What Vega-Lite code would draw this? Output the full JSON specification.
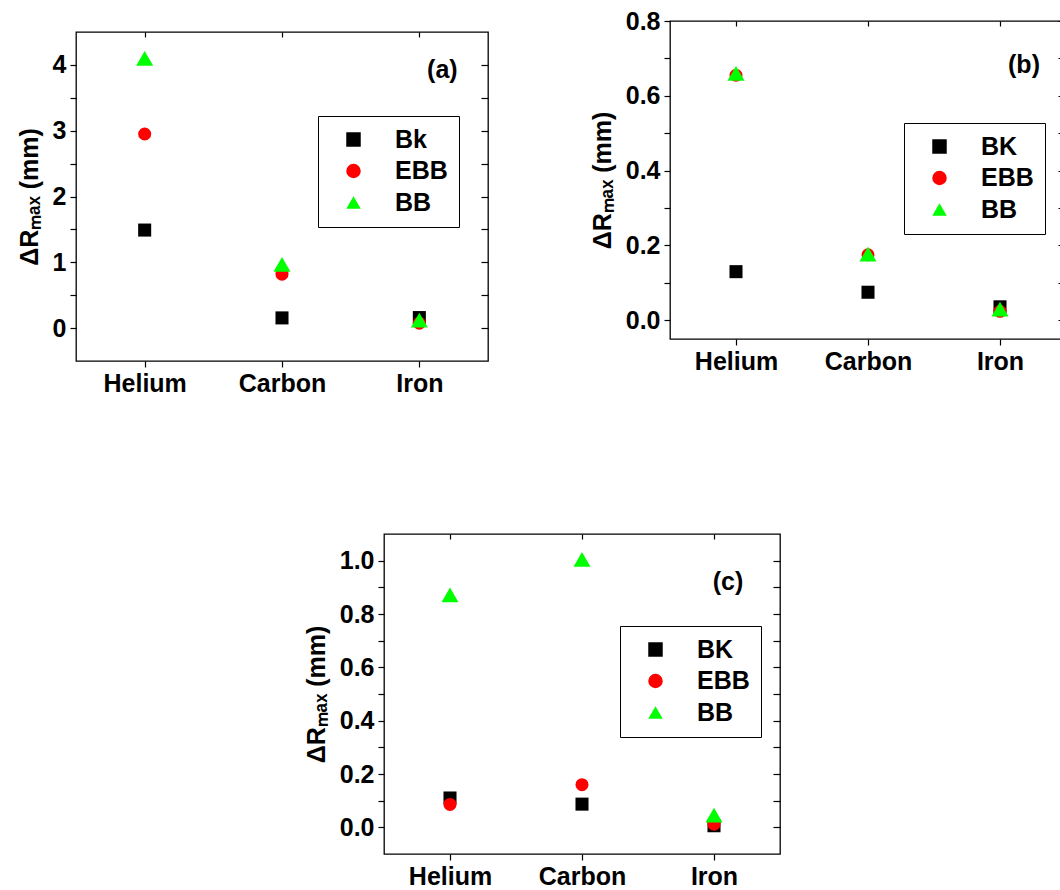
{
  "$schema": "https://vega.github.io/schema/vega-lite/v6.json",
  "padding": {"left": 16, "top": 8, "right": 0, "bottom": 0},
  "background": "white",
  "config": {
    "font": "Liberation Sans",
    "view": {"stroke": "black", "strokeWidth": 1.3},
    "axis": {"grid": false, "domain": false, "labelFont": "Liberation Sans", "labelFontSize": 25, "labelFontWeight": "bold", "labelColor": "black", "tickColor": "black", "tickSize": 6, "tickWidth": 1.2, "labelPadding": 4, "titleFont": "Liberation Sans", "titleFontSize": 25, "titleFontWeight": "bold", "titleColor": "black", "titlePadding": 10},
    "legend": {"strokeColor": "black", "fillColor": "white", "padding": 11, "labelFont": "Liberation Sans", "labelFontSize": 25, "labelFontWeight": "bold", "labelColor": "black", "symbolSize": 210, "symbolOffset": 12, "labelOffset": 29, "rowPadding": 5.5, "symbolStrokeWidth": 0}
  },
  "datasets": {
    "a": [
      {"element": "Helium", "series": "Bk", "value": 1.49},
      {"element": "Carbon", "series": "Bk", "value": 0.155},
      {"element": "Iron", "series": "Bk", "value": 0.16},
      {"element": "Helium", "series": "EBB", "value": 2.95},
      {"element": "Carbon", "series": "EBB", "value": 0.82},
      {"element": "Iron", "series": "EBB", "value": 0.075},
      {"element": "Helium", "series": "BB", "value": 4.1},
      {"element": "Carbon", "series": "BB", "value": 0.97},
      {"element": "Iron", "series": "BB", "value": 0.12}
    ],
    "b": [
      {"element": "Helium", "series": "BK", "value": 0.13},
      {"element": "Carbon", "series": "BK", "value": 0.075},
      {"element": "Iron", "series": "BK", "value": 0.036},
      {"element": "Helium", "series": "EBB", "value": 0.655},
      {"element": "Carbon", "series": "EBB", "value": 0.175},
      {"element": "Iron", "series": "EBB", "value": 0.024},
      {"element": "Helium", "series": "BB", "value": 0.66},
      {"element": "Carbon", "series": "BB", "value": 0.177},
      {"element": "Iron", "series": "BB", "value": 0.03}
    ],
    "c": [
      {"element": "Helium", "series": "BK", "value": 0.11},
      {"element": "Carbon", "series": "BK", "value": 0.087},
      {"element": "Iron", "series": "BK", "value": 0.006},
      {"element": "Helium", "series": "EBB", "value": 0.086},
      {"element": "Carbon", "series": "EBB", "value": 0.16},
      {"element": "Iron", "series": "EBB", "value": 0.012},
      {"element": "Helium", "series": "BB", "value": 0.872},
      {"element": "Carbon", "series": "BB", "value": 1.005},
      {"element": "Iron", "series": "BB", "value": 0.046}
    ]
  },
  "spacing": 134,
  "resolve": {"scale": {"color": "independent", "shape": "independent"}, "legend": {"color": "independent", "shape": "independent"}},
  "vconcat": [
    {
      "spacing": 99,
      "resolve": {"scale": {"color": "independent", "shape": "independent"}, "legend": {"color": "independent", "shape": "independent"}},
      "hconcat": [
        {
          "spacing": 5,
          "resolve": {"scale": {"color": "independent", "shape": "independent"}, "legend": {"color": "independent", "shape": "independent"}},
          "vconcat": [
            {
              "width": 1,
              "height": 1,
              "view": {"stroke": null},
              "data": {"values": [{}]},
              "mark": {"type": "point", "opacity": 0},
              "encoding": {}
            },
            {
              "width": 412,
              "height": 329,
              "layer": [
                {
                  "data": {"name": "a"},
                  "mark": {"type": "point", "filled": true, "opacity": 1},
                  "encoding": {
                    "x": {"field": "element", "type": "nominal", "scale": {"type": "point", "padding": 0.5, "domain": ["Helium", "Carbon", "Iron"]}, "axis": {"orient": "bottom", "title": null, "labelAngle": 0}},
                    "y": {"field": "value", "type": "quantitative", "scale": {"domain": [-0.5, 4.5], "nice": false, "zero": false}, "axis": {"orient": "left", "title": "ΔRₘₐₓ (mm)", "format": ".0f", "values": [0, 0.5, 1, 1.5, 2, 2.5, 3, 3.5, 4], "labelExpr": "datum.value % 1 === 0 ? datum.label : ''"}},
                    "color": {"field": "series", "type": "nominal", "scale": {"domain": ["Bk", "EBB", "BB"], "range": ["#000000", "#ff0000", "#00ff00"]}, "legend": {"title": null, "orient": "none", "legendX": 242, "legendY": 84}},
                    "shape": {"field": "series", "type": "nominal", "scale": {"domain": ["Bk", "EBB", "BB"], "range": ["square", "circle", "triangle-up"]}, "legend": {"title": null, "orient": "none", "legendX": 242, "legendY": 84}},
                    "size": {"condition": {"test": "datum.series === 'BB'", "value": 290}, "value": 170}
                  }
                },
                {
                  "data": {"name": "a"},
                  "mark": {"type": "point", "opacity": 0},
                  "encoding": {
                    "x": {"field": "element", "type": "nominal", "scale": {"type": "point", "padding": 0.5, "domain": ["Helium", "Carbon", "Iron"]}, "axis": {"orient": "top", "title": null, "labels": false, "tickSize": -5}},
                    "y": {"field": "value", "type": "quantitative", "scale": {"domain": [-0.5, 4.5], "nice": false, "zero": false}, "axis": {"orient": "right", "title": null, "labels": false, "tickSize": -7, "values": [0, 0.5, 1, 1.5, 2, 2.5, 3, 3.5, 4]}}
                  }
                },
                {
                  "data": {"values": [{"label": "(a)"}]},
                  "mark": {"type": "text", "font": "Liberation Sans", "fontSize": 25, "fontWeight": "bold", "color": "black", "dx": 23, "align": "center", "baseline": "middle"},
                  "encoding": {
                    "x": {"datum": "Iron", "type": "nominal", "axis": null},
                    "y": {"datum": 3.93, "type": "quantitative", "axis": null},
                    "text": {"field": "label"}
                  }
                }
              ],
              "resolve": {"axis": {"x": "independent", "y": "independent"}}
            }
          ]
        },
        {
          "width": 396,
          "height": 318,
          "layer": [
            {
              "data": {"name": "b"},
              "mark": {"type": "point", "filled": true, "opacity": 1},
              "encoding": {
                "x": {"field": "element", "type": "nominal", "scale": {"type": "point", "padding": 0.5, "domain": ["Helium", "Carbon", "Iron"]}, "axis": {"orient": "bottom", "title": null, "labelAngle": 0}},
                "y": {"field": "value", "type": "quantitative", "scale": {"domain": [-0.05, 0.8], "nice": false, "zero": false}, "axis": {"orient": "left", "title": "ΔRₘₐₓ (mm)", "format": ".1f", "values": [0, 0.1, 0.2, 0.3, 0.4, 0.5, 0.6, 0.7, 0.8], "labelExpr": "abs(datum.value * 5 - round(datum.value * 5)) < 0.001 ? datum.label : ''"}},
                "color": {"field": "series", "type": "nominal", "scale": {"domain": ["BK", "EBB", "BB"], "range": ["#000000", "#ff0000", "#00ff00"]}, "legend": {"title": null, "orient": "none", "legendX": 234, "legendY": 102}},
                "shape": {"field": "series", "type": "nominal", "scale": {"domain": ["BK", "EBB", "BB"], "range": ["square", "circle", "triangle-up"]}, "legend": {"title": null, "orient": "none", "legendX": 234, "legendY": 102}},
                "size": {"condition": {"test": "datum.series === 'BB'", "value": 290}, "value": 170}
              }
            },
            {
              "data": {"name": "b"},
              "mark": {"type": "point", "opacity": 0},
              "encoding": {
                "x": {"field": "element", "type": "nominal", "scale": {"type": "point", "padding": 0.5, "domain": ["Helium", "Carbon", "Iron"]}, "axis": {"orient": "top", "title": null, "labels": false, "tickSize": -5}},
                "y": {"field": "value", "type": "quantitative", "scale": {"domain": [-0.05, 0.8], "nice": false, "zero": false}, "axis": {"orient": "right", "title": null, "labels": false, "tickSize": -8, "values": [0, 0.1, 0.2, 0.3, 0.4, 0.5, 0.6, 0.7, 0.8]}}
              }
            },
            {
              "data": {"values": [{"label": "(b)"}]},
              "mark": {"type": "text", "font": "Liberation Sans", "fontSize": 25, "fontWeight": "bold", "color": "black", "dx": 24, "align": "center", "baseline": "middle"},
              "encoding": {
                "x": {"datum": "Iron", "type": "nominal", "axis": null},
                "y": {"datum": 0.683, "type": "quantitative", "axis": null},
                "text": {"field": "label"}
              }
            }
          ],
          "resolve": {"axis": {"x": "independent", "y": "independent"}}
        }
      ]
    },
    {
      "spacing": 223,
      "resolve": {"scale": {"color": "independent", "shape": "independent"}, "legend": {"color": "independent", "shape": "independent"}},
      "hconcat": [
        {
          "width": 1,
          "height": 1,
          "view": {"stroke": null},
          "data": {"values": [{}]},
          "mark": {"type": "point", "opacity": 0},
          "encoding": {}
        },
        {
          "width": 396,
          "height": 320,
          "layer": [
            {
              "data": {"name": "c"},
              "mark": {"type": "point", "filled": true, "opacity": 1},
              "encoding": {
                "x": {"field": "element", "type": "nominal", "scale": {"type": "point", "padding": 0.5, "domain": ["Helium", "Carbon", "Iron"]}, "axis": {"orient": "bottom", "title": null, "labelAngle": 0}},
                "y": {"field": "value", "type": "quantitative", "scale": {"domain": [-0.1, 1.1], "nice": false, "zero": false}, "axis": {"orient": "left", "title": "ΔRₘₐₓ (mm)", "format": ".1f", "values": [0, 0.1, 0.2, 0.3, 0.4, 0.5, 0.6, 0.7, 0.8, 0.9, 1.0], "labelExpr": "abs(datum.value * 5 - round(datum.value * 5)) < 0.001 ? datum.label : ''"}},
                "color": {"field": "series", "type": "nominal", "scale": {"domain": ["BK", "EBB", "BB"], "range": ["#000000", "#ff0000", "#00ff00"]}, "legend": {"title": null, "orient": "none", "legendX": 236, "legendY": 92}},
                "shape": {"field": "series", "type": "nominal", "scale": {"domain": ["BK", "EBB", "BB"], "range": ["square", "circle", "triangle-up"]}, "legend": {"title": null, "orient": "none", "legendX": 236, "legendY": 92}},
                "size": {"condition": {"test": "datum.series === 'BB'", "value": 290}, "value": 170}
              }
            },
            {
              "data": {"name": "c"},
              "mark": {"type": "point", "opacity": 0},
              "encoding": {
                "x": {"field": "element", "type": "nominal", "scale": {"type": "point", "padding": 0.5, "domain": ["Helium", "Carbon", "Iron"]}, "axis": {"orient": "top", "title": null, "labels": false, "tickSize": -5}},
                "y": {"field": "value", "type": "quantitative", "scale": {"domain": [-0.1, 1.1], "nice": false, "zero": false}, "axis": {"orient": "right", "title": null, "labels": false, "tickSize": -7, "values": [0, 0.1, 0.2, 0.3, 0.4, 0.5, 0.6, 0.7, 0.8, 0.9, 1.0]}}
              }
            },
            {
              "data": {"values": [{"label": "(c)"}]},
              "mark": {"type": "text", "font": "Liberation Sans", "fontSize": 25, "fontWeight": "bold", "color": "black", "dx": 14, "align": "center", "baseline": "middle"},
              "encoding": {
                "x": {"datum": "Iron", "type": "nominal", "axis": null},
                "y": {"datum": 0.921, "type": "quantitative", "axis": null},
                "text": {"field": "label"}
              }
            }
          ],
          "resolve": {"axis": {"x": "independent", "y": "independent"}}
        }
      ]
    }
  ]
}
